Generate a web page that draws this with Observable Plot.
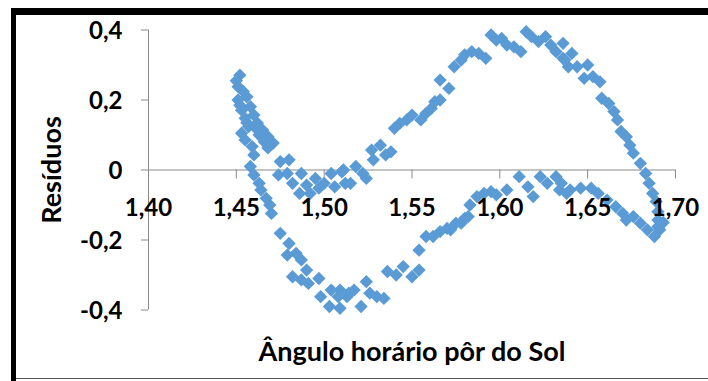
<!DOCTYPE html>
<html><head><meta charset="utf-8">
<script src="https://cdn.jsdelivr.net/npm/d3@7"></script>
<script src="https://cdn.jsdelivr.net/npm/@observablehq/plot@0.6"></script>
<style>
body{margin:0;background:#fff;}
#wrap{position:relative;width:708px;height:381px;overflow:hidden;background:#fff;}
#chart{position:absolute;left:0;top:0}
.bt{position:absolute;left:11px;top:8px;width:697px;height:7px;background:#000}
.bl{position:absolute;left:11px;top:8px;width:5px;height:373px;background:#000}
.bb{position:absolute;left:16px;top:378px;width:692px;height:1px;background:#555}
</style></head><body>
<div id="wrap"><div id="chart"></div><div class="bt"></div><div class="bl"></div><div class="bb"></div></div>
<script>
// Tick values and labels
const xTicks = [1.40, 1.45, 1.50, 1.55, 1.60, 1.65, 1.70];
const xTickLabels = ["1,40", "1,45", "1,50", "1,55", "1,60", "1,65", "1,70"];
const yTicks = [-0.4, -0.2, 0, 0.2, 0.4];
const yTickLabels = ["-0,4", "-0,2", "0", "0,2", "0,4"];
const xTitle = "Ângulo horário pôr do Sol";
const yTitle = "Resíduos";

// Cluster near the start (both branches overlapping)
const startX = [1.452,1.450,1.451,1.454,1.451,1.456,1.452,1.453,1.458,1.455,1.460,1.456,1.462,1.457,1.461,1.465,1.453,1.463,1.468,1.466,1.471,1.468,1.455,1.459,1.460];
const startY = [0.271,0.255,0.238,0.224,0.200,0.209,0.185,0.171,0.181,0.148,0.157,0.135,0.134,0.124,0.120,0.114,0.105,0.100,0.095,0.080,0.077,0.063,0.086,0.067,0.043];

// Upper branch
const upperX = [1.475,1.480,1.474,1.479,1.482,1.487,1.486,1.490,1.495,1.492,1.497,1.500,1.504,1.506,1.510,1.512,1.511,1.515,1.518,1.522,1.524,1.527,1.528,1.532,1.535,1.538,1.540,1.543,1.547,1.550,1.555,1.558,1.561,1.563,1.566,1.566,1.571,1.574,1.578,1.580,1.584,1.588,1.592,1.595,1.598,1.601,1.604,1.608,1.612,1.615,1.618,1.622,1.626,1.629,1.632,1.636,1.636,1.641,1.637,1.639,1.644,1.650,1.648,1.653,1.657,1.658,1.662,1.665,1.667,1.669,1.672,1.674,1.676,1.680,1.683,1.685,1.687,1.689,1.690,1.690,1.690];
const upperY = [0.024,0.029,-0.014,-0.010,-0.038,-0.010,-0.067,-0.043,-0.024,-0.067,-0.052,-0.038,-0.010,-0.048,-0.005,-0.038,0.000,-0.038,0.010,-0.010,-0.024,0.057,0.029,0.071,0.043,0.052,0.119,0.133,0.143,0.157,0.143,0.162,0.176,0.195,0.200,0.257,0.233,0.295,0.314,0.329,0.338,0.333,0.319,0.386,0.371,0.376,0.357,0.352,0.338,0.395,0.381,0.367,0.381,0.357,0.338,0.362,0.319,0.333,0.314,0.295,0.295,0.300,0.262,0.267,0.252,0.205,0.190,0.167,0.143,0.110,0.095,0.071,0.048,0.019,-0.010,-0.038,-0.067,-0.090,-0.119,-0.143,-0.162];

// Lower branch
const lowerX = [1.458,1.460,1.463,1.464,1.467,1.469,1.470,1.475,1.480,1.479,1.484,1.487,1.482,1.487,1.490,1.491,1.497,1.498,1.504,1.503,1.508,1.509,1.514,1.513,1.509,1.517,1.521,1.524,1.526,1.530,1.534,1.536,1.541,1.545,1.550,1.554,1.554,1.558,1.562,1.566,1.570,1.575,1.580,1.583,1.572,1.578,1.582,1.587,1.591,1.595,1.598,1.604,1.611,1.616,1.619,1.623,1.627,1.632,1.634,1.638,1.635,1.640,1.646,1.652,1.656,1.661,1.666,1.670,1.672,1.676,1.680,1.684,1.688,1.691,1.693];
const lowerY = [0.010,-0.014,-0.038,-0.057,-0.081,-0.100,-0.124,-0.181,-0.210,-0.243,-0.238,-0.257,-0.305,-0.314,-0.286,-0.324,-0.310,-0.362,-0.343,-0.390,-0.362,-0.395,-0.352,-0.362,-0.343,-0.343,-0.390,-0.319,-0.352,-0.362,-0.367,-0.290,-0.300,-0.276,-0.305,-0.286,-0.229,-0.190,-0.190,-0.176,-0.167,-0.152,-0.138,-0.100,-0.171,-0.152,-0.133,-0.076,-0.067,-0.062,-0.071,-0.057,-0.019,-0.048,-0.076,-0.019,-0.038,-0.019,-0.057,-0.067,-0.038,-0.057,-0.052,-0.052,-0.067,-0.086,-0.105,-0.124,-0.143,-0.133,-0.152,-0.171,-0.190,-0.171,-0.150];

const points = [];
[[startX,startY],[upperX,upperY],[lowerX,lowerY]].forEach(([xs,ys]) => xs.forEach((x,i) => points.push({x, y: ys[i]})));

const axisColor = "#898989";
const font = "Lato, 'Open Sans', sans-serif";

const plot = Plot.plot({
  width: 708, height: 381,
  marginLeft: 148, marginRight: 33, marginTop: 29.5, marginBottom: 71.5,
  x: {domain: [1.40, 1.70], axis: null},
  y: {domain: [-0.4, 0.4], axis: null},
  style: {fontFamily: font, background: "transparent", overflow: "visible"},
  marks: [
    Plot.ruleY([0], {x1: 1.40, x2: 1.70, stroke: axisColor}),
    Plot.ruleX([1.40], {y1: -0.4, y2: 0.4, stroke: axisColor}),
    Plot.ruleX(xTicks, {y1: 0, y2: 0, insetBottom: -9, stroke: axisColor}),
    Plot.ruleY(yTicks, {x1: 1.40, x2: 1.40, insetLeft: -7, stroke: axisColor}),
    Plot.dot(points, {x: "x", y: "y", symbol: "diamond2", r: 6, fill: "#5B9BD5"}),
    Plot.text(xTicks, {x: d => d, y: 0, text: (d, i) => xTickLabels[i], dy: 38, fontSize: 24, fontWeight: "bold", fill: "#000"}),
    Plot.text(yTicks, {x: 1.40, y: d => d, text: (d, i) => yTickLabels[i], textAnchor: "end", dx: -26, dy: 1, fontSize: 24, fontWeight: "bold", fill: "#000"}),
    Plot.text([yTitle], {frameAnchor: "left", textAnchor: "middle", text: d => d, rotate: -90, dx: -96, fontSize: 27, fontWeight: "bold", fill: "#000"}),
    Plot.text([xTitle], {frameAnchor: "bottom", textAnchor: "middle", text: d => d, dy: 51, fontSize: 27, fontWeight: "bold", fill: "#000"})
  ]
});
document.getElementById("chart").appendChild(plot);
</script>
</body></html>
